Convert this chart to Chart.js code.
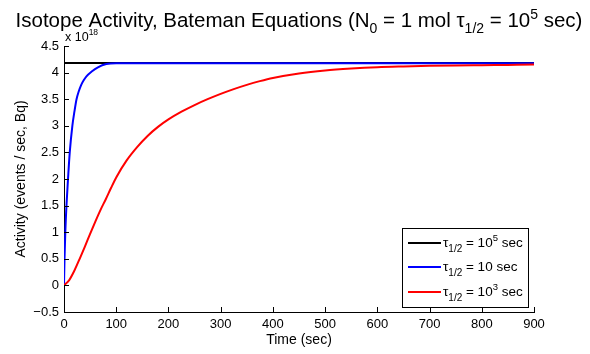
<!DOCTYPE html>
<html>
<head>
<meta charset="utf-8">
<script src="https://cdn.jsdelivr.net/npm/chart.js@4"></script>
<style>
  html, body { margin: 0; padding: 0; background: #fff; }
  #wrap { width: 590px; height: 354px; }
</style>
</head>
<body>
<div id="wrap"><canvas id="activityChart" width="590" height="354"></canvas></div>
<script>
// activity in units of 10^18 Bq, time in seconds
const xTicks = [0, 100, 200, 300, 400, 500, 600, 700, 800, 900];
const yTicks = [-0.5, 0, 0.5, 1, 1.5, 2, 2.5, 3, 3.5, 4, 4.5];

const blackT = [0, 900];
const blackA = [4.18, 4.18];

const blueT = [0, 1, 2.5, 5, 7.7, 11, 16, 20, 24, 28, 33, 38, 43, 53, 65, 81, 100, 200, 400, 600, 900];
const blueA = [0, 0.5, 1.0, 1.55, 2.0, 2.5, 3.0, 3.27, 3.5, 3.64, 3.77, 3.86, 3.93, 4.02, 4.1, 4.16, 4.175, 4.175, 4.175, 4.175, 4.175];

const redT = [0, 10, 20, 30, 40, 50, 60, 70, 80, 90, 100, 120, 140, 160, 180, 200, 225, 250, 275, 300, 325, 350, 375, 400, 450, 500, 550, 600, 650, 700, 750, 800, 850, 900];
const redA = [0, 0.1, 0.28, 0.5, 0.73, 0.97, 1.2, 1.42, 1.62, 1.83, 2.03, 2.35, 2.6, 2.81, 2.98, 3.12, 3.265, 3.39, 3.5, 3.6, 3.69, 3.77, 3.84, 3.9, 3.985, 4.04, 4.075, 4.1, 4.115, 4.127, 4.135, 4.14, 4.145, 4.15];

const seriesNames = [
  ['τ', '1/2', ' = 10', '5', ' sec'],
  ['τ', '1/2', ' = 10 sec', '', ''],
  ['τ', '1/2', ' = 10', '3', ' sec']
];
const seriesColors = ['#000000', '#0000ff', '#ff0000'];

const FONT = '"Liberation Sans", Arial, Helvetica, sans-serif';

function pts(t, a) {
  return t.map((v, i) => ({ x: v, y: a[i] }));
}

// draws text runs with sub/superscripts, returns width
function richText(ctx, x, y, parts, draw) {
  let cx = x;
  parts.forEach(p => {
    ctx.font = p.size + 'px ' + FONT;
    if (draw) ctx.fillText(p.t, cx, y + (p.dy || 0));
    cx += ctx.measureText(p.t).width;
  });
  return cx - x;
}

const decorations = {
  id: 'decorations',
  afterDraw(chart) {
    const ctx = chart.ctx;
    const area = chart.chartArea;
    const xs = chart.scales.x, ys = chart.scales.y;
    ctx.save();
    ctx.fillStyle = '#000';
    ctx.strokeStyle = '#000';
    ctx.textBaseline = 'alphabetic';
    ctx.textAlign = 'left';

    // inward tick marks
    ctx.lineWidth = 1;
    ctx.beginPath();
    xTicks.forEach(v => {
      const px = Math.round(xs.getPixelForValue(v)) + 0.5;
      ctx.moveTo(px, area.bottom);
      ctx.lineTo(px, area.bottom - 5);
    });
    yTicks.forEach(v => {
      const py = Math.round(ys.getPixelForValue(v)) + 0.5;
      ctx.moveTo(area.left, py);
      ctx.lineTo(area.left + 5, py);
    });
    ctx.stroke();

    // title
    const title = [
      { t: 'Isotope Activity, Bateman Equations (N', size: 20.5 },
      { t: '0', size: 14, dy: 6 },
      { t: ' = 1 mol τ', size: 20.5 },
      { t: '1/2', size: 14, dy: 6 },
      { t: ' = 10', size: 20.5 },
      { t: '5', size: 14, dy: -8 },
      { t: ' sec)', size: 20.5 }
    ];
    const tw = richText(ctx, 0, 0, title, false);
    richText(ctx, (area.left + area.right) / 2 - tw / 2, 27, title, true);

    // exponent label
    richText(ctx, area.left + 1, 41, [
      { t: 'x 10', size: 12.5 },
      { t: '18', size: 8.5, dy: -6 }
    ], true);

    // axis labels
    ctx.font = '14px ' + FONT;
    ctx.textAlign = 'center';
    ctx.fillText('Time (sec)', (area.left + area.right) / 2, 344);
    ctx.save();
    ctx.translate(25, (area.top + area.bottom) / 2);
    ctx.rotate(-Math.PI / 2);
    ctx.fillText('Activity (events / sec, Bq)', 0, 0);
    ctx.restore();
    ctx.textAlign = 'left';

    // legend
    const lx = 402, ly = 228, lw = 126, lh = 79;
    ctx.fillStyle = '#fff';
    ctx.fillRect(lx, ly, lw, lh);
    ctx.lineWidth = 1;
    ctx.strokeRect(lx + 0.5, ly + 0.5, lw, lh);
    const rows = [243, 267, 292];
    seriesNames.forEach((n, i) => {
      ctx.strokeStyle = seriesColors[i];
      ctx.lineWidth = 2;
      ctx.beginPath();
      ctx.moveTo(408, rows[i]);
      ctx.lineTo(441, rows[i]);
      ctx.stroke();
      ctx.fillStyle = '#000';
      richText(ctx, 443, rows[i] + 4, [
        { t: n[0], size: 13.5 },
        { t: n[1], size: 10, dy: 5 },
        { t: n[2], size: 13.5 },
        { t: n[3], size: 9.5, dy: -6 },
        { t: n[4], size: 13.5 }
      ], true);
    });
    ctx.restore();
  }
};

// later series drawn on top, like plot() call order
const datasets = [
  { label: 'black', order: 3, data: pts(blackT, blackA) },
  { label: 'blue', order: 2, data: pts(blueT, blueA) },
  { label: 'red', order: 1, data: pts(redT, redA) }
].map((d, i) => Object.assign(d, {
  borderColor: seriesColors[i],
  borderWidth: 2,
  pointRadius: 0,
  fill: false,
  cubicInterpolationMode: 'monotone'
}));

const ctx = document.getElementById('activityChart').getContext('2d');
new Chart(ctx, {
  type: 'line',
  data: { datasets: datasets },
  options: {
    responsive: false,
    animation: false,
    events: [],
    layout: { padding: { top: 46, right: 56, left: 0, bottom: 0 } },
    plugins: { legend: { display: false }, tooltip: { enabled: false } },
    scales: {
      x: {
        type: 'linear',
        min: 0, max: 900,
        afterFit: s => { s.height = 42; },
        afterBuildTicks: s => { s.ticks = xTicks.map(v => ({ value: v })); },
        grid: { drawOnChartArea: false, drawTicks: false },
        border: { display: true, color: '#000', width: 1 },
        ticks: { color: '#000', padding: 5, maxRotation: 0, font: { family: FONT, size: 13 } }
      },
      y: {
        min: -0.5, max: 4.5,
        afterFit: s => { s.width = 64; },
        afterBuildTicks: s => { s.ticks = yTicks.map(v => ({ value: v })); },
        grid: { drawOnChartArea: false, drawTicks: false },
        border: { display: true, color: '#000', width: 1 },
        ticks: {
          color: '#000', padding: 5,
          font: { family: FONT, size: 13 },
          callback: v => (v < 0 ? '\u2212' + Math.abs(v) : String(v))
        }
      }
    }
  },
  plugins: [decorations]
});
</script>
</body>
</html>
